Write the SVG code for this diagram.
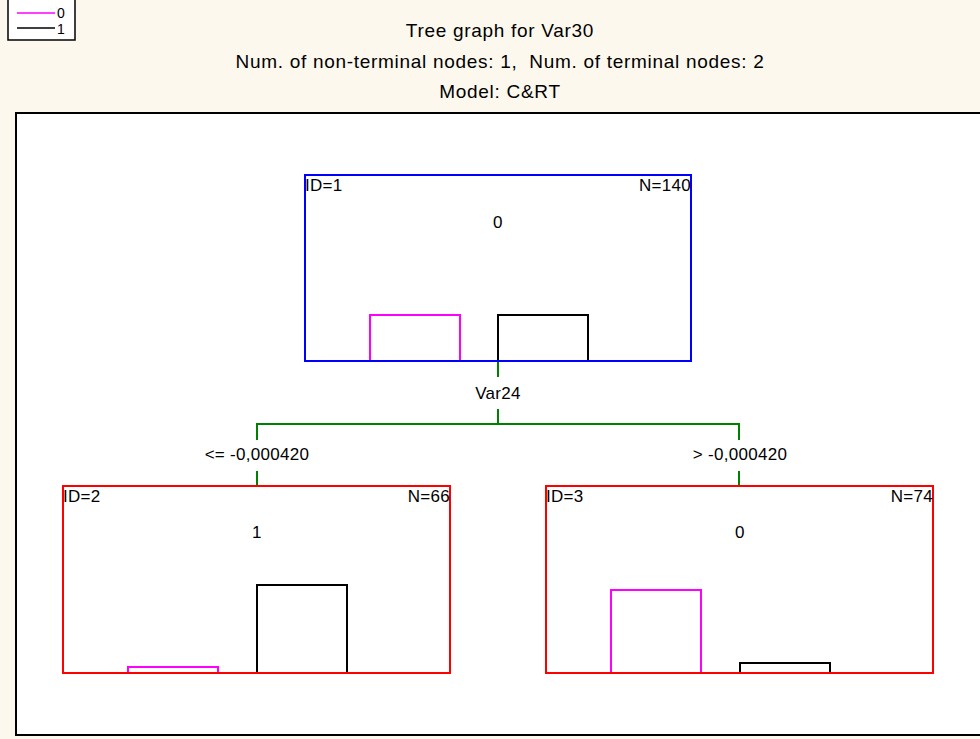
<svg xmlns="http://www.w3.org/2000/svg" width="980" height="739" viewBox="0 0 980 739">
<style>
text{font-family:"Liberation Sans",Arial,sans-serif;fill:#000}
.t{font-size:19px;text-anchor:middle;letter-spacing:0.7px}
.s{font-size:17px;letter-spacing:0.3px}
.l{font-size:14px}
.m{text-anchor:middle}
.e{text-anchor:end}
.nb{fill:none;stroke-width:2}
.b0{fill:none;stroke:#ff00ff;stroke-width:2}
.b1{fill:none;stroke:#000;stroke-width:2}
.c{fill:none;stroke:#008000;stroke-width:2}
</style>
<rect x="0" y="0" width="980" height="739" fill="#fdf8ee"/>
<rect x="16" y="113" width="970" height="622" fill="#fff" stroke="#000" stroke-width="2"/>
<g id="legend">
<rect x="8" y="-1" width="67" height="41" fill="#fff" stroke="#000" stroke-width="1.5"/>
<line x1="17" y1="13" x2="55" y2="13" stroke="#ff00ff" stroke-width="1.5"/>
<line x1="17" y1="28" x2="55" y2="28" stroke="#000" stroke-width="1.5"/>
<text class="l" x="57" y="18">0</text>
<text class="l" x="57" y="34">1</text>
</g>
<g id="title">
<text class="t" x="500" y="37">Tree graph for Var30</text>
<text class="t" x="500" y="68" xml:space="preserve">Num. of non-terminal nodes: 1,  Num. of terminal nodes: 2</text>
<text class="t" x="500" y="98">Model: C&amp;RT</text>
</g>
<g id="connectors">
<polyline class="c" points="498,361 498,377"/>
<polyline class="c" points="498,409 498,424"/>
<polyline class="c" points="257,440 257,424 739,424 739,440"/>
<line class="c" x1="257" y1="471" x2="257" y2="486"/>
<line class="c" x1="739" y1="471" x2="739" y2="486"/>
<text class="s m" x="498" y="399">Var24</text>
<text class="s m" x="257" y="460">&lt;= -0,000420</text>
<text class="s m" x="740" y="460">&gt; -0,000420</text>
</g>
<g id="node1">
<rect class="nb" x="305" y="175" width="386" height="186" stroke="#0000ff"/>
<rect class="b0" x="370" y="315" width="90" height="46"/>
<rect class="b1" x="498" y="315" width="90" height="46"/>
<line x1="305" y1="361" x2="691" y2="361" stroke="#0000ff" stroke-width="2"/>
<text class="s" x="305" y="191">ID=1</text>
<text class="s e" x="691" y="191">N=140</text>
<text class="s m" x="498" y="228">0</text>
</g>
<g id="node2">
<rect class="b0" x="128" y="667" width="90" height="6"/>
<rect class="b1" x="257" y="585" width="90" height="88"/>
<rect class="nb" x="63" y="486" width="387" height="187" stroke="#ff0000"/>
<text class="s" x="63" y="502">ID=2</text>
<text class="s e" x="450" y="502">N=66</text>
<text class="s m" x="257" y="538">1</text>
</g>
<g id="node3">
<rect class="b0" x="611" y="590" width="90" height="83"/>
<rect class="b1" x="740" y="663" width="90" height="10"/>
<rect class="nb" x="546" y="486" width="387" height="187" stroke="#ff0000"/>
<text class="s" x="546" y="502">ID=3</text>
<text class="s e" x="933" y="502">N=74</text>
<text class="s m" x="740" y="538">0</text>
</g>
</svg>
